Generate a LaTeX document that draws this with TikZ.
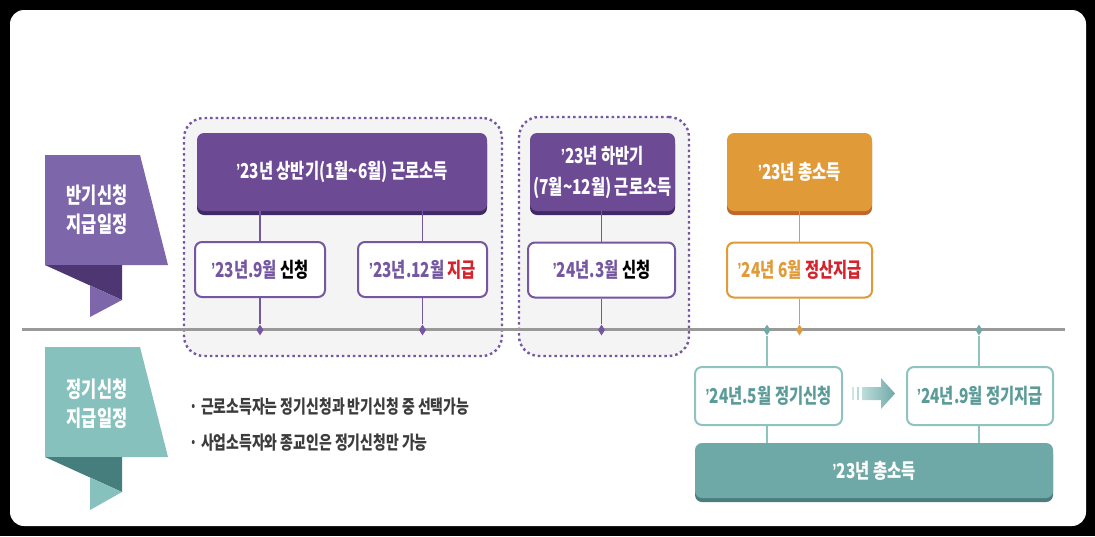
\documentclass[tikz,border=0pt]{standalone}
\usepackage{fontspec}
\setmainfont{Noto Sans CJK KR}[FakeStretch=0.75]
\newfontfamily\lat{Liberation Sans}[FakeStretch=0.75]
\usetikzlibrary{shapes.geometric,shadows}
\newcommand\apo{{\lat\bfseries ’}}
\definecolor{pp}{HTML}{6C4B94}
\definecolor{ppd}{HTML}{3F2A66}
\definecolor{ppl}{HTML}{7E66AA}
\definecolor{ppf}{HTML}{4D3672}
\definecolor{ppt}{HTML}{7457A0}
\definecolor{og}{HTML}{E09A38}
\definecolor{ogd}{HTML}{C2652B}
\definecolor{rd}{HTML}{D4232C}
\definecolor{tl}{HTML}{6FA9A7}
\definecolor{tld}{HTML}{4A7E7D}
\definecolor{tll}{HTML}{86C1BD}
\definecolor{tlf}{HTML}{457E7C}
\definecolor{tlb}{HTML}{8EC3C0}
\definecolor{tlt}{HTML}{5B9C98}
\definecolor{grpf}{HTML}{F4F4F5}
\definecolor{txt}{HTML}{3C3C3C}
\tikzset{
  hdr/.style={rounded corners=7pt, inner sep=0pt, text=white, align=center,
    font=\bfseries\fontsize{20.5}{31}\selectfont},
  subbox/.style={draw=#1, line width=2pt, fill=white, rounded corners=7pt,
    inner sep=0pt, minimum height=55pt, font=\bfseries\fontsize{20.5}{24}\selectfont},
  grp/.style={draw=ppt, fill=grpf, line width=2.4pt, dash pattern=on 2.5pt off 3pt,
    rounded corners=20pt, inner sep=0pt},
  dia/.style={diamond, inner sep=0pt, minimum width=7pt, minimum height=11pt, fill=#1},
  conn/.style={draw=#1, line width=1.2pt},
  lbl/.style={text=white, align=center, font=\bfseries\fontsize{22}{29}\selectfont},
  bul/.style={anchor=west, text=txt, font=\bfseries\fontsize{18.5}{22}\selectfont}
}
\begin{document}
\begin{tikzpicture}[x=1pt,y=-1pt]
\useasboundingbox (0,0) rectangle (1095,536);
\fill[black] (0,0) rectangle (1095,536);
\fill[white, rounded corners=14pt] (10,10) rectangle (1086,526);

% ribbons
\fill[ppl] (45,155) -- (140,155) -- (168,265) -- (45,265) -- cycle;
\fill[ppf] (45,265) -- (122,265) -- (122,300) -- cycle;
\fill[ppl] (90,285.5) -- (122,300) -- (90,317) -- cycle;
\node[lbl] (lab1) at (97,210) {반기신청\\지급일정};

\fill[tll] (45,347) -- (140,347) -- (168,457) -- (45,457) -- cycle;
\fill[tlf] (45,457) -- (122,457) -- (122,492) -- cycle;
\fill[tll] (90,477.5) -- (122,492) -- (90,510) -- cycle;
\node[lbl] (lab2) at (97,404) {정기신청\\지급일정};

% group boxes
\node[grp, minimum width=318pt, minimum height=238pt] (g1) at (343,237) {};
\node[grp, minimum width=170pt, minimum height=239pt] (g2) at (604,236.5) {};

% timeline
\coordinate (tlL) at (22,329);
\coordinate (tlR) at (1065,329);
\draw[line width=3pt, color=black!40] (tlL) -- (tlR);

% headers
\node[hdr, fill=pp, general shadow={fill=ppd, shadow yshift=-4pt},
  minimum width=290pt, minimum height=78pt] (h1) at (342,172)
  {\apo 23년 상반기(1월\textasciitilde 6월) 근로소득};
\node[hdr, fill=pp, general shadow={fill=ppd, shadow yshift=-4pt},
  minimum width=145pt, minimum height=78pt] (h2) at (602.5,172)
  {\apo 23년 하반기\\(7월\textasciitilde 12월) 근로소득};
\node[hdr, fill=og, general shadow={fill=ogd, shadow yshift=-4pt},
  minimum width=145pt, minimum height=78pt] (h3) at (799.5,172)
  {\apo 23년 총소득};

% sub boxes
\node[subbox=ppt, minimum width=130pt] (s1) at (260,269.5)
  {{\color{ppt}\apo 23년.9월} 신청};
\node[subbox=ppt, minimum width=129pt] (s2) at (422.5,269.5)
  {{\color{ppt}\apo 23년.12월} {\color{rd}지급}};
\node[subbox=ppt, minimum width=147pt] (s3) at (601.5,270)
  {{\color{ppt}\apo 24년.3월} 신청};
\node[subbox=og, minimum width=145pt] (s4) at (799.5,270)
  {{\color{og}\apo 24년 6월} {\color{rd}정산지급}};

% diamonds
\node[dia=ppt] (m1) at (260,330) {};
\node[dia=ppt] (m2) at (422.5,330) {};
\node[dia=ppt] (m3) at (601.5,330) {};
\node[dia=og] (m4) at (799.5,330) {};
\node[dia=tl] (m5) at (767,330) {};
\node[dia=tl] (m6) at (979,330) {};

% purple / orange connectors
\draw[conn=ppt] (s1.north) -- (h1.south -| s1.north);
\draw[conn=ppt] (s2.north) -- (h1.south -| s2.north);
\draw[conn=ppt] (s3.north) -- (h2.south -| s3.north);
\draw[conn=og] (s4.north) -- (h3.south -| s4.north);
\draw[conn=ppt] (s1.south) -- (m1);
\draw[conn=ppt] (s2.south) -- (m2);
\draw[conn=ppt] (s3.south) -- (m3);
\draw[conn=og] (s4.south) -- (m4);

% teal part
\node[subbox=tlb, minimum width=147pt, minimum height=58pt, text=tlt] (t1) at (768.5,396)
  {\apo 24년.5월 정기신청};
\node[subbox=tlb, minimum width=146pt, minimum height=58pt, text=tlt] (t2) at (980,396)
  {\apo 24년.9월 정기지급};
\node[hdr, fill=tl, general shadow={fill=tld, shadow yshift=-4pt},
  minimum width=358pt, minimum height=55pt] (ft) at (874,470.5)
  {\apo 23년 총소득};
\draw[conn=tlb] (m5) -- (t1.north -| m5);
\draw[conn=tlb] (m6) -- (t2.north -| m6);
\draw[conn=tlb] (t1.south -| m5) -- (ft.north -| m5);
\draw[conn=tlb] (t2.south -| m6) -- (ft.north -| m6);

% arrow between teal boxes
\fill[tll!40] (851.5,387) rectangle (854,400);
\fill[tll!60] (856.5,387) rectangle (859,400);
\shade[left color=tll!55, right color=tl] (862,387) -- (881,387) -- (881,378) -- (895,393.5)
  -- (881,409) -- (881,400) -- (862,400) -- cycle;

% bullets
\node[bul] (b1) at (186,407) {· 근로소득자는 정기신청과 반기신청 중 선택가능};
\node[bul] (b2) at (186,443) {· 사업소득자와 종교인은 정기신청만 가능};
\end{tikzpicture}
\end{document}
